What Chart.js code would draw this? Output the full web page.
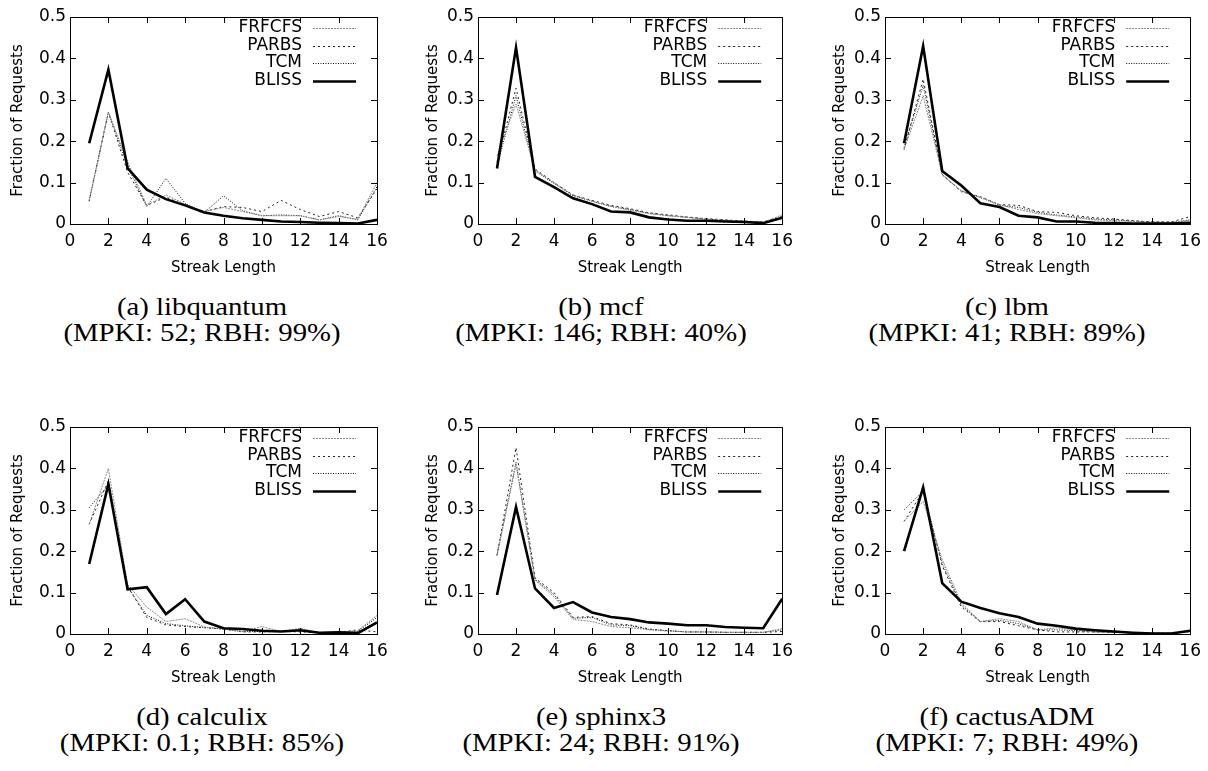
<!DOCTYPE html>
<html>
<head>
<meta charset="utf-8">
<script src="https://cdn.jsdelivr.net/npm/chart.js@4.4.1/dist/chart.umd.min.js"></script>
<style>
  body { margin: 0; background: #fff; width: 1208px; height: 771px; position: relative; overflow: hidden; }
  .panel { position: absolute; }
  .caption { position: absolute; width: 400px; text-align: center; font-family: "Liberation Serif", "Times New Roman", serif;
             font-size: 25px; line-height: 26px; color: #000; transform: scaleX(1.15); white-space: nowrap; }
</style>
</head>
<body>
<script>
"use strict";

// x categories and axis ticks
var streakLength = [1, 2, 3, 4, 5, 6, 7, 8, 9, 10, 11, 12, 13, 14, 15, 16];
var xTicks = [0, 2, 4, 6, 8, 10, 12, 14, 16];
var yTicks = [0, 0.1, 0.2, 0.3, 0.4, 0.5];
var schedulers = ['FRFCFS', 'PARBS', 'TCM', 'BLISS'];

// benchmark captions
var benchmarks = ['libquantum', 'mcf', 'lbm', 'calculix', 'sphinx3', 'cactusADM'];
var letters = ['a', 'b', 'c', 'd', 'e', 'f'];
var mpki = ['52', '146', '41', '0.1', '24', '7'];
var rbh = ['99%', '40%', '89%', '85%', '91%', '49%'];

// (a) libquantum
var libquantumFRFCFS = [0.057, 0.27, 0.15, 0.045, 0.07, 0.048, 0.03, 0.04, 0.03, 0.02, 0.02, 0.02, 0.01, 0.018, 0.012, 0.1];
var libquantumPARBS  = [0.055, 0.27, 0.125, 0.045, 0.065, 0.045, 0.03, 0.042, 0.04, 0.03, 0.057, 0.035, 0.018, 0.03, 0.015, 0.085];
var libquantumTCM    = [0.057, 0.27, 0.14, 0.042, 0.11, 0.05, 0.028, 0.068, 0.032, 0.02, 0.022, 0.02, 0.01, 0.02, 0.01, 0.09];
var libquantumBLISS  = [0.195, 0.373, 0.135, 0.083, 0.06, 0.045, 0.028, 0.02, 0.014, 0.01, 0.006, 0.005, 0.003, 0.002, 0.001, 0.01];

// (b) mcf
var mcfFRFCFS = [0.165, 0.29, 0.13, 0.1, 0.07, 0.055, 0.043, 0.033, 0.025, 0.02, 0.016, 0.012, 0.009, 0.007, 0.004, 0.022];
var mcfPARBS  = [0.15, 0.328, 0.133, 0.1, 0.07, 0.057, 0.045, 0.037, 0.027, 0.022, 0.017, 0.013, 0.01, 0.007, 0.005, 0.018];
var mcfTCM    = [0.14, 0.31, 0.128, 0.098, 0.068, 0.055, 0.042, 0.035, 0.026, 0.02, 0.016, 0.012, 0.009, 0.006, 0.004, 0.015];
var mcfBLISS  = [0.134, 0.426, 0.114, 0.089, 0.062, 0.048, 0.03, 0.028, 0.016, 0.011, 0.008, 0.008, 0.006, 0.005, 0.002, 0.015];

// (c) lbm
var lbmFRFCFS = [0.18, 0.31, 0.12, 0.08, 0.065, 0.047, 0.035, 0.025, 0.02, 0.015, 0.01, 0.008, 0.006, 0.004, 0.004, 0.008];
var lbmPARBS  = [0.18, 0.35, 0.12, 0.078, 0.066, 0.047, 0.045, 0.03, 0.028, 0.02, 0.015, 0.012, 0.008, 0.005, 0.005, 0.018];
var lbmTCM    = [0.185, 0.335, 0.118, 0.08, 0.064, 0.045, 0.04, 0.028, 0.022, 0.017, 0.012, 0.01, 0.007, 0.005, 0.004, 0.01];
var lbmBLISS  = [0.195, 0.43, 0.128, 0.093, 0.05, 0.041, 0.02, 0.016, 0.006, 0.006, 0.003, 0.002, 0.001, 0.001, 0.001, 0.003];

// (d) calculix
var calculixFRFCFS = [0.265, 0.4, 0.12, 0.065, 0.03, 0.037, 0.017, 0.012, 0.006, 0.018, 0.006, 0.014, 0.003, 0.004, 0.008, 0.045];
var calculixPARBS  = [0.265, 0.37, 0.115, 0.04, 0.022, 0.018, 0.015, 0.012, 0.005, 0.005, 0.006, 0.005, 0.003, 0.004, 0.01, 0.005];
var calculixTCM    = [0.305, 0.36, 0.115, 0.045, 0.025, 0.02, 0.016, 0.012, 0.006, 0.006, 0.006, 0.008, 0.003, 0.004, 0.006, 0.04];
var calculixBLISS  = [0.169, 0.362, 0.108, 0.113, 0.048, 0.084, 0.03, 0.014, 0.012, 0.008, 0.006, 0.009, 0.003, 0.004, 0.002, 0.028];

// (e) sphinx3
var sphinx3FRFCFS = [0.19, 0.41, 0.13, 0.09, 0.035, 0.03, 0.018, 0.015, 0.01, 0.007, 0.005, 0.005, 0.004, 0.004, 0.004, 0.013];
var sphinx3PARBS  = [0.19, 0.45, 0.135, 0.1, 0.04, 0.042, 0.025, 0.022, 0.012, 0.008, 0.005, 0.005, 0.004, 0.004, 0.004, 0.006];
var sphinx3TCM    = [0.19, 0.415, 0.132, 0.095, 0.038, 0.04, 0.022, 0.02, 0.011, 0.008, 0.005, 0.005, 0.004, 0.004, 0.004, 0.01];
var sphinx3BLISS  = [0.094, 0.307, 0.11, 0.063, 0.077, 0.052, 0.041, 0.036, 0.028, 0.025, 0.021, 0.021, 0.017, 0.015, 0.014, 0.085];

// (f) cactusADM
var cactusFRFCFS = [0.272, 0.32, 0.18, 0.075, 0.03, 0.037, 0.03, 0.01, 0.015, 0.01, 0.005, 0.004, 0.003, 0.002, 0.002, 0.006];
var cactusPARBS  = [0.272, 0.345, 0.165, 0.065, 0.03, 0.03, 0.02, 0.01, 0.005, 0.005, 0.005, 0.004, 0.003, 0.002, 0.002, 0.006];
var cactusTCM    = [0.3, 0.345, 0.17, 0.07, 0.03, 0.033, 0.025, 0.01, 0.01, 0.008, 0.005, 0.004, 0.003, 0.002, 0.002, 0.006];
var cactusBLISS  = [0.2, 0.354, 0.123, 0.078, 0.063, 0.05, 0.041, 0.025, 0.02, 0.013, 0.009, 0.006, 0.003, 0.001, 0.001, 0.008];

var panelSeries = [
    [libquantumFRFCFS, libquantumPARBS, libquantumTCM, libquantumBLISS],
    [mcfFRFCFS, mcfPARBS, mcfTCM, mcfBLISS],
    [lbmFRFCFS, lbmPARBS, lbmTCM, lbmBLISS],
    [calculixFRFCFS, calculixPARBS, calculixTCM, calculixBLISS],
    [sphinx3FRFCFS, sphinx3PARBS, sphinx3TCM, sphinx3BLISS],
    [cactusFRFCFS, cactusPARBS, cactusTCM, cactusBLISS]
];

// line look per scheduler
var lineStyles = [
    { color: '#8a8a8a', width: 1, dash: [2, 1] },
    { color: '#222', width: 1, dash: [2, 3] },
    { color: '#111', width: 1, dash: [1, 1.5] },
    { color: '#000', width: 2.6, dash: [] }
];

// page geometry: columns and rows
var columns = [
    { left: 0, width: 400, axisWidth: 70, padRight: 23, titleX: 18, capX: 2 },
    { left: 400, width: 400, axisWidth: 78, padRight: 16, titleX: 33, capX: 1 },
    { left: 800, width: 408, axisWidth: 85, padRight: 16, titleX: 40, capX: 3 }
];
var rowTops = [0, 410];
var canvasHeight = 285;

Chart.defaults.font.family = '"DejaVu Sans", sans-serif';
Chart.defaults.color = '#000';

// gnuplot-like frame, inward ticks and legend (text left of the line sample)
var gnuFrame = {
    id: 'gnuFrame',
    afterDraw: function(chart) {
        var ctx = chart.ctx;
        var a = chart.chartArea;
        var xs = chart.scales.x, ys = chart.scales.y;
        ctx.save();
        ctx.strokeStyle = '#000';
        ctx.lineWidth = 1;
        ctx.setLineDash([]);
        ctx.beginPath();
        xTicks.forEach(function(v) {
            var px = Math.round(xs.getPixelForValue(v)) + 0.5;
            ctx.moveTo(px, a.bottom); ctx.lineTo(px, a.bottom - 6);
            ctx.moveTo(px, a.top); ctx.lineTo(px, a.top + 6);
        });
        yTicks.forEach(function(v) {
            var py = Math.round(ys.getPixelForValue(v)) + 0.5;
            ctx.moveTo(a.left, py); ctx.lineTo(a.left + 6, py);
            ctx.moveTo(a.right, py); ctx.lineTo(a.right - 6, py);
        });
        ctx.stroke();
        ctx.strokeRect(Math.round(a.left) + 0.5, Math.round(a.top) + 0.5,
                       Math.round(a.right - a.left), Math.round(a.bottom - a.top));

        ctx.font = '17px "DejaVu Sans", sans-serif';
        ctx.fillStyle = '#000';
        ctx.textAlign = 'right';
        ctx.textBaseline = 'middle';
        chart.data.datasets.forEach(function(ds, i) {
            var y = a.top + 11 + i * 17.5;
            ctx.fillText(ds.label, a.right - 75, y);
            var st = lineStyles[i];
            ctx.strokeStyle = st.color;
            ctx.lineWidth = st.width;
            ctx.setLineDash(st.dash);
            ctx.beginPath();
            ctx.moveTo(a.right - 64, Math.round(y) + 0.5);
            ctx.lineTo(a.right - 21, Math.round(y) + 0.5);
            ctx.stroke();
        });
        ctx.restore();
    }
};

panelSeries.forEach(function(series, p) {
    var col = columns[p % 3];
    var top = rowTops[Math.floor(p / 3)];

    var div = document.createElement('div');
    div.className = 'panel';
    div.style.left = col.left + 'px';
    div.style.top = top + 'px';
    var canvas = document.createElement('canvas');
    canvas.width = col.width;
    canvas.height = canvasHeight;
    div.appendChild(canvas);
    document.body.appendChild(div);

    var cap = document.createElement('div');
    cap.className = 'caption';
    cap.style.left = (col.left + col.width / 2 - 200 + col.capX) + 'px';
    cap.style.top = (top + 294) + 'px';
    cap.innerHTML = '(' + letters[p] + ') ' + benchmarks[p] + '<br>(MPKI: ' + mpki[p] + '; RBH: ' + rbh[p] + ')';
    document.body.appendChild(cap);

    var datasets = series.map(function(values, i) {
        return {
            label: schedulers[i],
            data: streakLength.map(function(x, k) { return { x: x, y: values[k] }; }),
            borderColor: lineStyles[i].color,
            borderWidth: lineStyles[i].width,
            borderDash: lineStyles[i].dash,
            pointRadius: 0,
            tension: 0,
            fill: false,
            order: i === 3 ? 0 : 1
        };
    });

    new Chart(canvas.getContext('2d'), {
        type: 'line',
        data: { datasets: datasets },
        plugins: [gnuFrame],
        options: {
            responsive: false,
            animation: false,
            devicePixelRatio: 1,
            layout: { padding: { top: 17, bottom: 5, left: 0, right: col.padRight } },
            plugins: { legend: { display: false }, tooltip: { enabled: false } },
            scales: {
                x: {
                    type: 'linear', min: 0, max: 16,
                    grid: { display: false, drawTicks: false },
                    border: { display: false },
                    afterBuildTicks: function(s) { s.ticks = xTicks.map(function(v) { return { value: v }; }); },
                    ticks: { font: { size: 17 }, padding: 7, maxRotation: 0, autoSkip: false },
                    title: { display: true, text: 'Streak Length', font: { size: 15 }, padding: { top: 0, bottom: 3 } },
                    afterFit: function(s) { s.height = 56; }
                },
                y: {
                    type: 'linear', min: 0, max: 0.5,
                    grid: { display: false, drawTicks: false },
                    border: { display: false },
                    afterBuildTicks: function(s) { s.ticks = yTicks.map(function(v) { return { value: v }; }); },
                    ticks: { font: { size: 17 }, padding: 4 },
                    title: { display: true, text: 'Fraction of Requests', font: { size: 15 },
                             padding: { top: col.titleX - 9, bottom: 0 } },
                    afterFit: function(s) { s.width = col.axisWidth; }
                }
            }
        }
    });
});
</script>
</body>
</html>
